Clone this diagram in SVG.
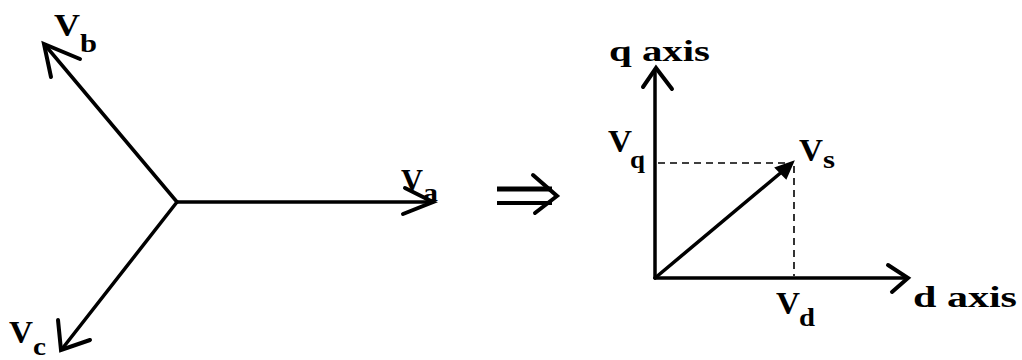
<svg xmlns="http://www.w3.org/2000/svg" width="1022" height="360" viewBox="0 0 1022 360">
<style>
.ln{stroke:#000;stroke-width:3.5;fill:none;stroke-linecap:round;stroke-linejoin:miter}
.ah{stroke:#000;stroke-width:4;fill:none;stroke-linecap:round;stroke-linejoin:miter}
.dash{stroke:#000;stroke-width:1.6;fill:none;stroke-dasharray:7 5}
text{font-family:"Liberation Serif","Times New Roman",Times,serif;font-weight:700;fill:#000}
.big{font-size:32px}
.sub{font-size:26px}
.ax{font-size:30px}
</style>
<rect width="1022" height="360" fill="#fff"/>
<g id="connectors">
  <line class="ln" x1="177" y1="202" x2="432" y2="202"/>
  <polyline class="ah" points="405,188 433,202 403,214"/>
  <line class="ln" x1="177" y1="202" x2="45" y2="45"/>
  <polyline class="ah" points="51,77 44,44 80,59"/>
  <line class="ln" x1="177" y1="202" x2="62" y2="349"/>
  <polyline class="ah" points="58,320 61,350 90,340"/>
  <line x1="497" y1="189" x2="552" y2="189" stroke="#000" stroke-width="5"/>
  <line x1="497" y1="203" x2="552" y2="203" stroke="#000" stroke-width="4"/>
  <polyline class="ah" points="533,175 557,196 535,213"/>
  <line class="ln" x1="655" y1="278" x2="655" y2="70"/>
  <polyline class="ah" points="643,87 656,68 672,89"/>
  <line class="ln" x1="655" y1="278" x2="906" y2="278"/>
  <polyline class="ah" points="888,265 908,278 892,292"/>
  <line class="ln" x1="655" y1="278" x2="790" y2="165"/>
  <polygon points="793,162 786,178 776,168" fill="#000" stroke="#000" stroke-width="2" stroke-linejoin="miter"/>
  <line class="dash" x1="658" y1="163" x2="793" y2="163"/>
  <line class="dash" x1="794" y1="166" x2="794" y2="276"/>
</g>
<g id="label-Va"><text class="big" x="401" y="191" textLength="22" lengthAdjust="spacingAndGlyphs">V</text><text class="sub" x="423" y="201" textLength="15" lengthAdjust="spacingAndGlyphs">a</text></g>
<g id="label-Vb"><text class="big" x="54" y="36" textLength="26" lengthAdjust="spacingAndGlyphs">V</text><text class="sub" x="80" y="52" textLength="17" lengthAdjust="spacingAndGlyphs">b</text></g>
<g id="label-Vc"><text class="big" x="9" y="343" textLength="24" lengthAdjust="spacingAndGlyphs">V</text><text class="sub" x="33" y="355" textLength="13" lengthAdjust="spacingAndGlyphs">c</text></g>
<g id="label-qaxis"><text class="ax" x="609" y="61" textLength="101" lengthAdjust="spacingAndGlyphs">q axis</text></g>
<g id="label-Vq"><text class="big" x="608" y="152" textLength="24" lengthAdjust="spacingAndGlyphs">V</text><text class="sub" x="630" y="168" textLength="15" lengthAdjust="spacingAndGlyphs">q</text></g>
<g id="label-Vs"><text class="big" x="799" y="161" textLength="24" lengthAdjust="spacingAndGlyphs">V</text><text class="sub" x="823" y="168" textLength="12" lengthAdjust="spacingAndGlyphs">s</text></g>
<g id="label-Vd"><text class="big" x="776" y="314" textLength="24" lengthAdjust="spacingAndGlyphs">V</text><text class="sub" x="799" y="326" textLength="16" lengthAdjust="spacingAndGlyphs">d</text></g>
<g id="label-daxis"><text class="ax" x="913" y="307" textLength="104" lengthAdjust="spacingAndGlyphs">d axis</text></g>
</svg>
